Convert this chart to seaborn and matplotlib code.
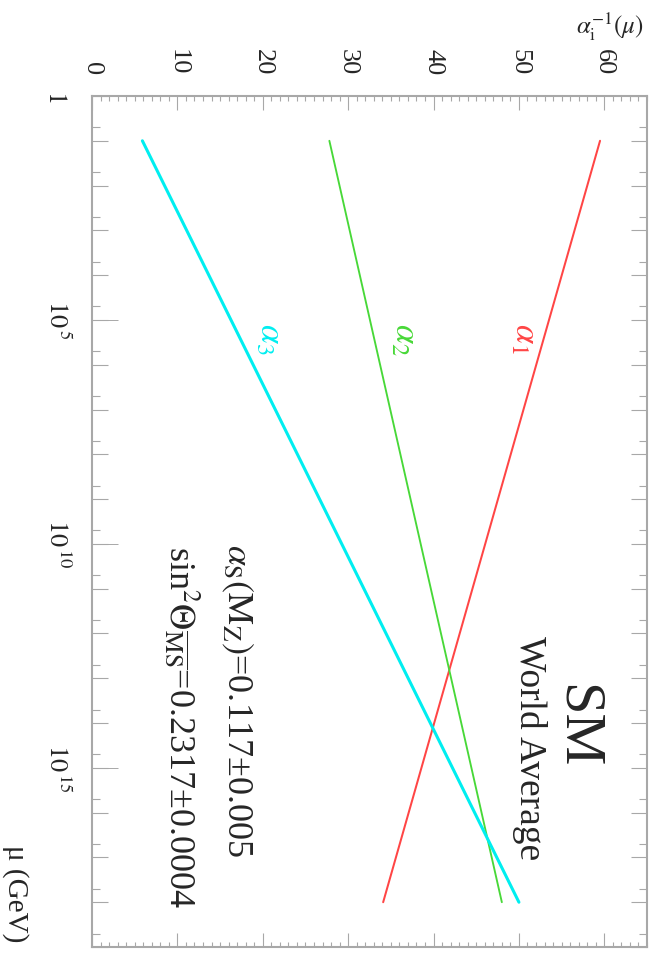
import numpy as np
import pandas as pd
import matplotlib
matplotlib.use("Agg")
import matplotlib.pyplot as plt
import seaborn as sns
from matplotlib.ticker import FixedLocator, MultipleLocator, NullFormatter, NullLocator

# ---------------- data ----------------
couplings = ["alpha1", "alpha2", "alpha3"]
mu_gev = [1e1, 1e18]                 # start / end of the running
inv_alpha1 = [59.5, 34.1]
inv_alpha2 = [27.8, 48.0]
inv_alpha3 = [5.9, 50.0]
line_labels = [r"$\alpha_1$", r"$\alpha_2$", r"$\alpha_3$"]
line_colors = ["#ff4545", "#48d838", "#00eef0"]
x_ticks = [0, 10, 20, 30, 40, 50, 60]
y_labeled = [1e0, 1e5, 1e10, 1e15]
y_labeled_text = ["$1$", r"$10^{\,5}$", r"$10^{\,10}$", r"$10^{\,15}$"]
text_sm = "SM"
text_wa = "World Average"
text_as = r"$\alpha_{\rm S}(\rm M_{\rm Z})$=0.117±0.005"
text_sw = r"sin$^{2}\Theta_{\overline{\rm MS}}$=0.2317±0.0004"
y_title = r"$\alpha_{\rm i}^{-1}(\mu)$"
x_title = "μ (GeV)"

sns.set_style("white")
plt.rcParams["font.family"] = ["Liberation Serif", "DejaVu Serif"]
plt.rcParams["mathtext.fontset"] = "stix"

df = pd.DataFrame({
    "mu": mu_gev * 3,
    "inv_alpha": inv_alpha1 + inv_alpha2 + inv_alpha3,
    "coupling": np.repeat(couplings, len(mu_gev)),
})

W, H = 655, 971
fig = plt.figure(figsize=(W / 100, H / 100), dpi=100)
L, R, T, B = 92, 647, 96, 947
ax = fig.add_axes([L / W, 1 - B / H, (R - L) / W, (B - T) / H])
ax.set_yscale("log")
ax.set_xlim(0, 65)
ax.set_ylim(1e19, 1)

widths = [1.45, 1.35, 2.2]
for c, col, lw in zip(couplings, line_colors, widths):
    sns.lineplot(data=df[df["coupling"] == c], x="inv_alpha", y="mu",
                 orient="y", sort=False, errorbar=None, color=col,
                 linewidth=lw, legend=False, ax=ax)
ax.set_xlabel("")
ax.set_ylabel("")

gray = "#a8a8a8"
for s in ax.spines.values():
    s.set_color(gray)
    s.set_linewidth(1.5)

# x axis (alpha^-1), labels on top
ax.tick_params(axis="x", which="both", direction="in", top=True, bottom=True,
               labeltop=True, labelbottom=False, color=gray, width=0.8,
               pad=15)
ax.tick_params(axis="x", which="major", length=10)
ax.tick_params(axis="x", which="minor", length=3.6)
ax.xaxis.set_minor_locator(MultipleLocator(1))

# y axis (mu), log
ax.tick_params(axis="y", which="both", direction="in", left=True, right=True,
               labelleft=True, labelright=False, color=gray, width=0.8, pad=31)
ax.tick_params(axis="y", which="major", length=11.5)
ax.tick_params(axis="y", which="minor", length=6)
ax.yaxis.set_minor_locator(FixedLocator(5 * 10.0 ** np.arange(0, 19)))
ax.yaxis.set_minor_formatter(NullFormatter())

decades = 10.0 ** np.arange(0, 20)
dec_labels = []
for d in decades:
    lab = ""
    for v, t in zip(y_labeled, y_labeled_text):
        if np.isclose(d, v):
            lab = t
    dec_labels.append(lab)
ax.set_yticks(decades, labels=dec_labels, rotation=-90, rotation_mode="anchor",
              ha="center", va="baseline", fontsize=19)
ax.set_ylim(1e19, 1)
ax.set_xticks(x_ticks, labels=[str(v) for v in x_ticks], rotation=-90,
              fontsize=19)

# overlay axes for the long ticks at labelled decades
ax2 = fig.add_axes(ax.get_position())
ax2.set_yscale("log")
ax2.set_ylim(1e19, 1)
ax2.set_xlim(0, 65)
ax2.patch.set_visible(False)
for s in ax2.spines.values():
    s.set_visible(False)
ax2.set_xticks([])
ax2.set_yticks(y_labeled[1:])
ax2.yaxis.set_minor_locator(NullLocator())
ax2.tick_params(axis="y", direction="in", left=True, right=False,
                labelleft=False, length=18.5, color=gray, width=0.7)

# curve labels
lab_x = [49.6, 35.6, 19.8]
for lx, t, col in zip(lab_x, line_labels, line_colors):
    ax.text(lx, 10 ** 5.07, t, color=col, fontsize=25, rotation=-90,
            rotation_mode="anchor", ha="left", va="baseline")

ax.text(55.1, 10 ** 13.13, text_sm, fontsize=42, rotation=-90,
        rotation_mode="anchor", ha="left", va="baseline")
ax.text(50.1, 10 ** 12.05, text_wa, fontsize=27, rotation=-90,
        rotation_mode="anchor", ha="left", va="baseline")
ax.text(15.9, 10 ** 10.0, text_as, fontsize=26, rotation=-90,
        rotation_mode="anchor", ha="left", va="baseline")
ax.text(9.06, 10 ** 10.04, text_sw, fontsize=26, rotation=-90,
        rotation_mode="anchor", ha="left", va="baseline")

fig.text(576 / W, 1 - 27 / H, y_title, fontsize=18, ha="left", va="center")
fig.text(8 / W, 1 - 845 / H, x_title, fontsize=21, rotation=-90,
         rotation_mode="anchor", ha="left", va="baseline")

fig.savefig("out.png", dpi=100)
